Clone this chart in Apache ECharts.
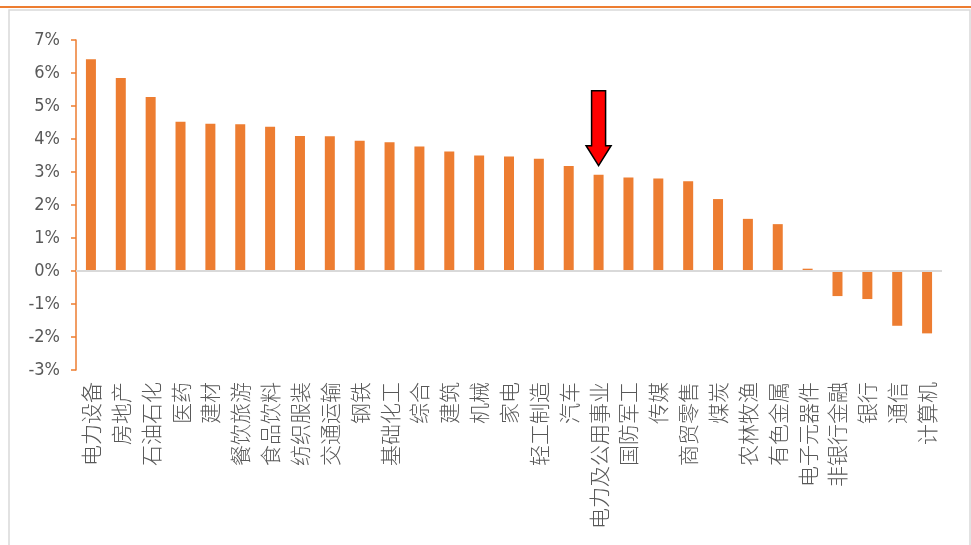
<!DOCTYPE html>
<html>
<head>
<meta charset="utf-8">
<script src="https://cdn.jsdelivr.net/npm/echarts@6/dist/echarts.min.js"></script>
<style>
html,body{margin:0;padding:0;background:#fff;}
#c{width:971px;height:545px;}
</style>
</head>
<body>
<div id="c"></div>
<script>
const categories = ['电力设备','房地产','石油石化','医药','建材','餐饮旅游','食品饮料','纺织服装','交通运输','钢铁','基础化工','综合','建筑','机械','家电','轻工制造','汽车','电力及公用事业','国防军工','传媒','商贸零售','煤炭','农林牧渔','有色金属','电子元器件','非银行金融','银行','通信','计算机'];
const values = [6.42,5.85,5.27,4.52,4.46,4.45,4.37,4.09,4.08,3.95,3.9,3.77,3.62,3.5,3.47,3.4,3.18,2.92,2.83,2.8,2.72,2.18,1.58,1.42,0.07,-0.76,-0.85,-1.66,-1.89];
const yTicks = {min:-3, max:7, interval:1};
const highlighted = '电力及公用事业';

const frame = [
  {type:'rect',shape:{x:0,y:6,width:971,height:2},style:{fill:'#ED7D31'},silent:true},
  {type:'rect',shape:{x:9,y:10,width:961,height:545},style:{fill:'none',stroke:'#D9D9D9',lineWidth:1.5},silent:true,z:-1}
];

const chart = echarts.init(document.getElementById('c'));
chart.setOption({
  animation:false,
  backgroundColor:'#fff',
  grid:{left:76,right:29,top:40,bottom:175,containLabel:false},
  xAxis:{
    type:'category',
    data:categories,
    axisLine:{show:false,onZero:false},
    axisTick:{show:false},
    axisLabel:{rotate:90,interval:0,margin:12,fontSize:21,fontWeight:300,color:'#595959',fontFamily:'Noto Sans CJK SC'}
  },
  yAxis:{
    type:'value',
    min:yTicks.min,max:yTicks.max,interval:yTicks.interval,
    axisLine:{show:true,lineStyle:{color:'#ED7D31',width:1.5}},
    axisTick:{show:true,length:5,lineStyle:{color:'#ED7D31',width:1.5}},
    splitLine:{show:false},
    axisLabel:{formatter:'{value}%',fontSize:18,color:'#595959',fontFamily:"'Liberation Sans Narrow','DejaVu Sans Condensed','Liberation Sans',sans-serif",margin:16}
  },
  series:[{
    type:'bar',
    data:values,
    barWidth:10,
    itemStyle:{color:'#ED7D31'},
    markLine:{
      silent:true,symbol:'none',label:{show:false},
      lineStyle:{color:'#D9D9D9',width:2,type:'solid'},
      data:[{yAxis:0}]
    }
  }],
  graphic:frame
});

// arrow annotation anchored to the highlighted bar
const idx = categories.indexOf(highlighted);
const p = chart.convertToPixel({seriesIndex:0},[idx, values[idx]]);
const tipX = p[0], tipY = p[1] - 9;
chart.setOption({
  graphic:frame.concat([
    {type:'polygon',z:100,shape:{points:[
      [tipX-7,tipY-75],[tipX+7,tipY-75],[tipX+7,tipY-20],[tipX+12.5,tipY-20],
      [tipX,tipY],[tipX-12.5,tipY-20],[tipX-7,tipY-20]
    ]},style:{fill:'#FF0000',stroke:'#000',lineWidth:1.5}}
  ])
});
</script>
</body>
</html>
